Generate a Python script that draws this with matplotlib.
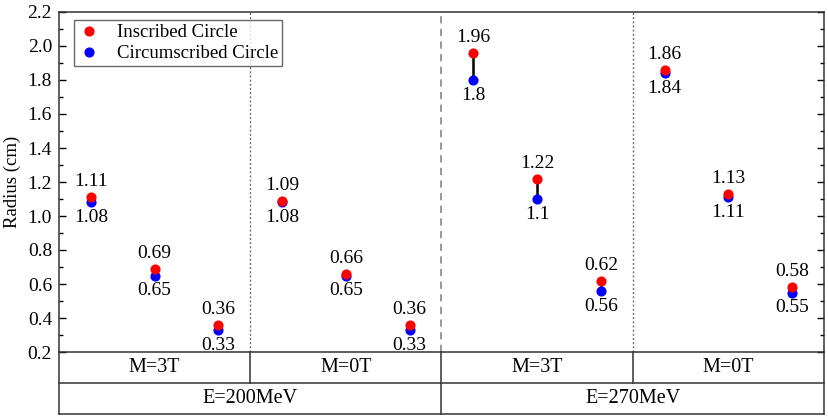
import matplotlib
matplotlib.use("Agg")
import matplotlib.pyplot as plt
from matplotlib.ticker import MultipleLocator

plt.rcParams['font.family'] = ['Liberation Serif', 'DejaVu Serif']

inscribed = [1.11, 0.69, 0.36, 1.09, 0.66, 0.36, 1.96, 1.22, 0.62, 1.86, 1.13, 0.58]
circumscribed = [1.08, 0.65, 0.33, 1.08, 0.65, 0.33, 1.8, 1.1, 0.56, 1.84, 1.11, 0.55]
inscribed_labels = ["1.11", "0.69", "0.36", "1.09", "0.66", "0.36", "1.96", "1.22", "0.62", "1.86", "1.13", "0.58"]
circumscribed_labels = ["1.08", "0.65", "0.33", "1.08", "0.65", "0.33", "1.8", "1.1", "0.56", "1.84", "1.11", "0.55"]
m_labels = ["M=3T", "M=0T", "M=3T", "M=0T"]
e_labels = ["E=200MeV", "E=270MeV"]

fig = plt.figure(figsize=(8.29, 4.19), dpi=100)
ax = fig.add_axes([59/829, 1-352/419, (824-59)/829, 340/419])

xs = [i + 0.5 for i in range(len(inscribed))]

for x, a, b in zip(xs, inscribed, circumscribed):
    ax.plot([x, x], [a, b], color='black', lw=1.8, zorder=2)

ax.plot(xs, circumscribed, 'o', color='#0000FF', ms=6.3, ls='none', zorder=3, label='Circumscribed Circle')
ax.plot(xs, inscribed, 'o', color='#FF0000', ms=6.3, ls='none', zorder=4, label='Inscribed Circle')

for x, a, b, la, lb in zip(xs, inscribed, circumscribed, inscribed_labels, circumscribed_labels):
    ax.annotate(la, (x, a), xytext=(0, 5), textcoords='offset points', ha='center', va='bottom', fontsize=14)
    ax.annotate(lb, (x, b), xytext=(0, -5), textcoords='offset points', ha='center', va='top', fontsize=14)

ax.axvline(3, color='#707070', ls=(0, (1.5, 1.5)), lw=1.0, zorder=1)
ax.axvline(9, color='#707070', ls=(0, (1.5, 1.5)), lw=1.0, zorder=1)
ax.axvline(6, color='#909090', ls=(0, (4, 3)), lw=1.3, zorder=1)

ax.set_xlim(0, 12)
ax.set_ylim(0.2, 2.2)
ax.yaxis.set_major_locator(MultipleLocator(0.2))
ax.yaxis.set_minor_locator(MultipleLocator(0.1))
ax.set_yticks([round(0.2 + 0.2*i, 1) for i in range(11)])
ax.set_yticklabels([f"{0.2 + 0.2*i:.1f}" for i in range(11)], fontsize=14)
ax.tick_params(axis='y', which='major', direction='in', length=5, right=True, width=1, pad=5)
ax.tick_params(axis='y', which='minor', direction='in', length=3, right=True, width=1)
ax.set_xticks([])
ax.set_ylabel('Radius (cm)', fontsize=13.5, labelpad=5)
for s in ax.spines.values():
    s.set_linewidth(1.1)
    s.set_color('#333333')

# category table beneath the axes
row_h = 31/340
lw = 1.1
kw = dict(transform=ax.transAxes, clip_on=False, color='#333333', lw=lw)
ax.plot([0, 1], [-row_h, -row_h], **kw)
ax.plot([0, 1], [-2*row_h, -2*row_h], **kw)
ax.plot([0, 0], [0, -2*row_h], **kw)
ax.plot([1, 1], [0, -2*row_h], **kw)
ax.plot([0.25, 0.25], [0, -row_h], **kw)
ax.plot([0.75, 0.75], [0, -row_h], **kw)
ax.plot([0.5, 0.5], [0, -2*row_h], **kw)
for i, lab in enumerate(m_labels):
    ax.text((i + 0.5)/4, -row_h/2, lab, transform=ax.transAxes, ha='center', va='center', fontsize=14.5)
for i, lab in enumerate(e_labels):
    ax.text((i + 0.5)/2, -1.5*row_h, lab, transform=ax.transAxes, ha='center', va='center', fontsize=14.5)

handles, labels = ax.get_legend_handles_labels()
leg = ax.legend(handles[::-1], labels[::-1], loc='upper left', bbox_to_anchor=(0.019, 0.975),
                fontsize=13.5, frameon=True, fancybox=False, edgecolor='#444444',
                handlelength=1.2, handletextpad=0.9, borderpad=0.2, labelspacing=0.2, borderaxespad=0)
leg.get_frame().set_linewidth(1.0)

fig.savefig('out.png', dpi=100)
